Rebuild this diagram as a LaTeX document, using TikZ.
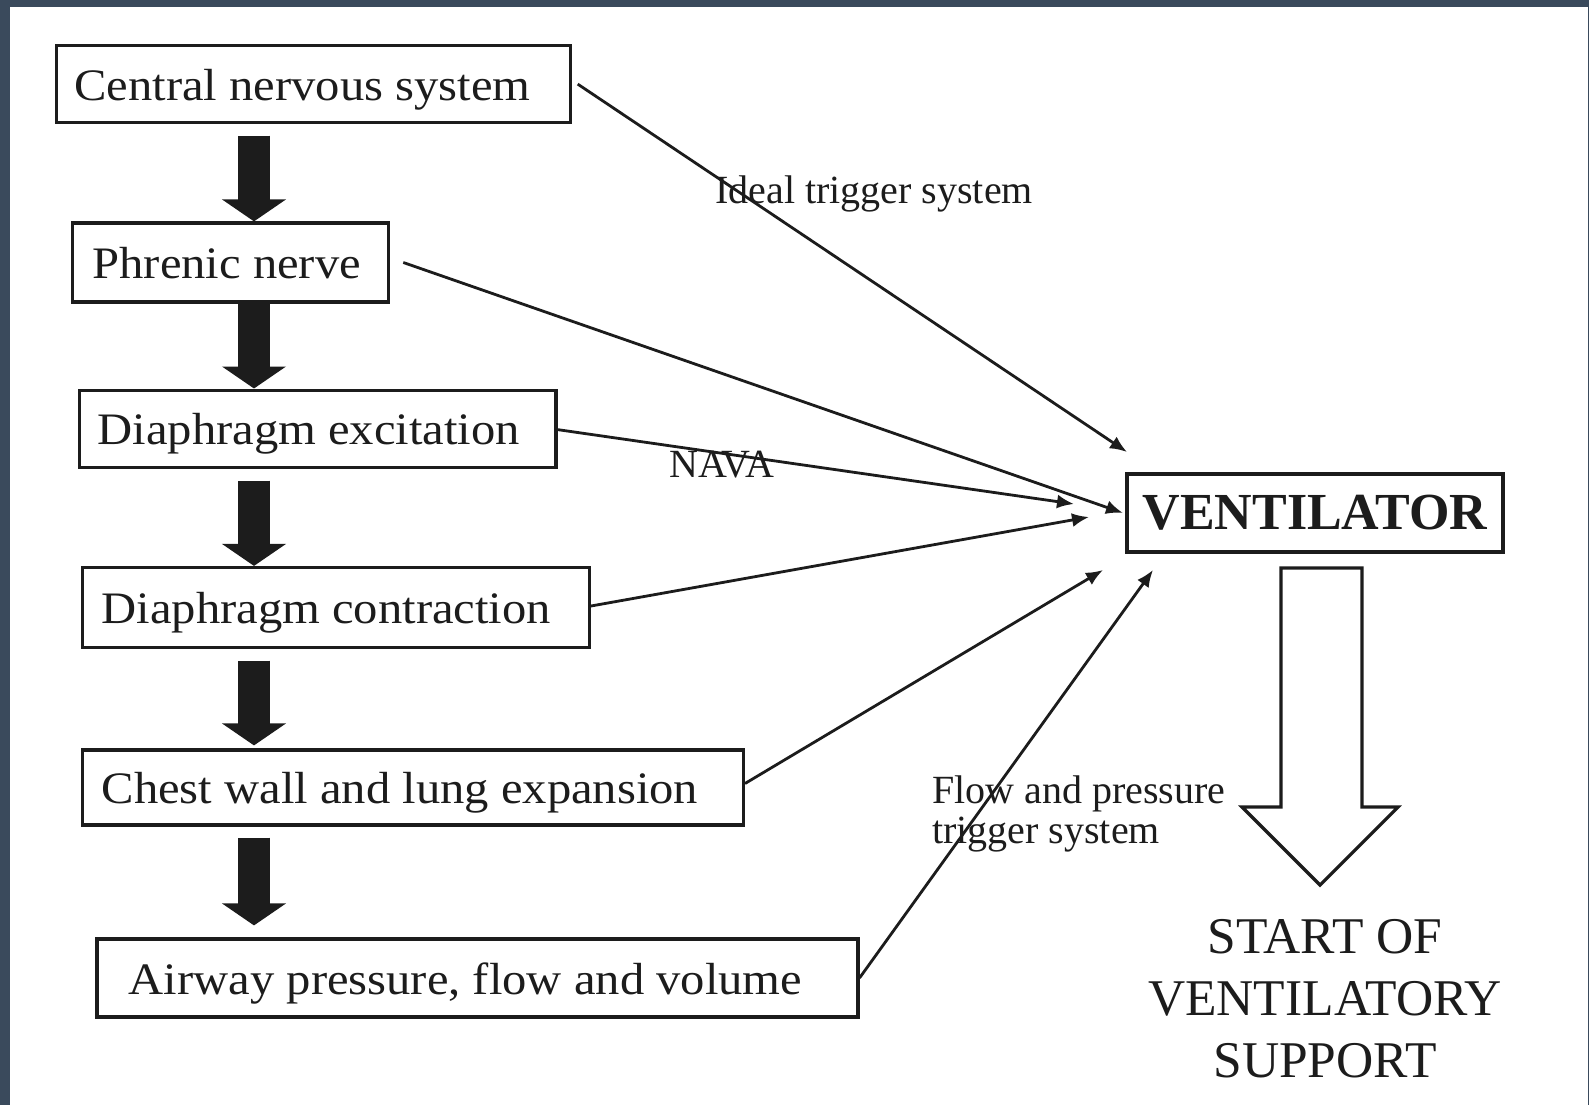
\documentclass[tikz,border=0pt]{standalone}
\usepackage{fontspec}
\setmainfont{Liberation Serif}
\newfontfamily\boxfont[FakeStretch=1.08]{Liberation Serif}
\usetikzlibrary{arrows.meta,calc}
\definecolor{bgband}{RGB}{58,74,92}
\definecolor{ink}{RGB}{28,28,28}
\tikzset{
  flowbox/.style={draw=ink, line width=3.2pt, anchor=west, inner ysep=0pt, align=flush left, text=ink,
    font=\boxfont\fontsize{45pt}{54pt}\selectfont, text height=39pt, text depth=7pt},
  blockarrow/.style={draw=ink, line width=32pt, -{Triangle[length=22pt,width=63pt]}},
  conn/.style={draw=ink, line width=2.8pt, -{Latex[length=17pt,width=14pt]}},
  lbl/.style={text=ink, inner sep=0pt, font=\fontsize{40pt}{40pt}\selectfont},
  hollow/.style={draw=ink, line width=3.2pt, line join=miter, fill=white}
}
\begin{document}
\begin{tikzpicture}[x=1pt,y=-1pt]
\path[use as bounding box] (0,0) rectangle (1589,1105);
\fill[bgband] (0,0) rectangle (1589,1105);
\fill[white] (10,7) rectangle (1588,1105);

% left column boxes
\node[flowbox, inner xsep=18pt, text width=477.8pt, minimum height=77pt] (cns) at (54.7,84.1) {Central nervous system};
\node[flowbox, inner xsep=20pt, text width=276.2pt, minimum height=79pt] (phr) at (70.9,262.5) {Phrenic nerve};
\node[flowbox, inner xsep=18pt, text width=440.3pt, minimum height=77pt] (dex) at (78,428.6) {Diaphragm excitation};
\node[flowbox, inner xsep=19pt, text width=468.8pt, minimum height=80pt] (dco) at (81,607.5) {Diaphragm contraction};
\node[flowbox, inner xsep=19pt, text width=622.8pt, minimum height=75pt] (chest) at (81,787.5) {Chest wall and lung expansion};
\node[flowbox, inner xsep=32pt, text width=697pt, minimum height=78pt] (air) at (95.3,978) {Airway pressure, flow and volume};

% ventilator
\node[draw=ink, line width=3.2pt, minimum width=376pt, minimum height=78pt, inner sep=0pt, text=ink,
  font=\fontsize{52pt}{60pt}\selectfont\bfseries] (vent) at (1315,513) {VENTILATOR};

% block arrows down the left column
\coordinate (ax) at (254,0);
\draw[blockarrow, shorten <=11.4pt] (cns.south -| ax) -- (phr.north -| ax);
\draw[blockarrow] (phr.south -| ax) -- (dex.north -| ax);
\draw[blockarrow, shorten <=12pt] (dex.south -| ax) -- (dco.north -| ax);
\draw[blockarrow, shorten <=11.5pt, shorten >=3pt] (dco.south -| ax) -- (chest.north -| ax);
\draw[blockarrow, shorten <=11pt, shorten >=12pt] (chest.south -| ax) -- (air.north -| ax);

% connector end points near the ventilator
\coordinate (t1) at (1127,452);
\coordinate (t2) at (1123,513);
\coordinate (t3) at (1074,504);
\coordinate (t4) at (1089,517);
\coordinate (t5) at (1103,570);
\coordinate (t6) at (1153,570);

\draw[conn] ([xshift=6pt]cns.east) -- (t1);
\draw[conn] ([xshift=13pt]phr.east) -- (t2);
\draw[conn] ([yshift=-1pt]dex.east) -- (t3);
\draw[conn] ([yshift=1.5pt]dco.east) -- (t4);
\draw[conn] ([yshift=4pt]chest.east) -- (t5);
\draw[conn] (air.east) -- (t6);

% labels
\node[lbl, anchor=base west] (lideal) at (715,203) {Ideal trigger system};
\node[lbl, anchor=base west] (lnava) at (669,477) {NAVA};
\node[lbl, anchor=north west, align=left] (lflow) at (932,776) {Flow and pressure\\trigger system};

% hollow arrow and result text
\draw[hollow] (1281,568) -- (1362,568) -- (1362,807) -- (1398,807) -- (1320,885)
  -- (1242,807) -- (1281,807) -- cycle;
\node[text=ink, inner sep=0pt, align=center, font=\fontsize{51.5pt}{62pt}\selectfont] (start) at (1325,999)
  {START OF\\VENTILATORY\\SUPPORT};
\end{tikzpicture}
\end{document}
